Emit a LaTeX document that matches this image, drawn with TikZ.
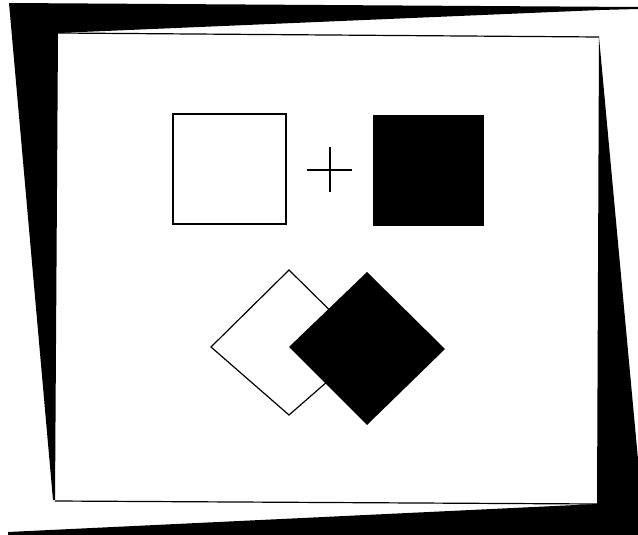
\documentclass[tikz,border=0pt]{standalone}
\begin{document}
\begin{tikzpicture}[x=1pt,y=-1pt,
  thinline/.style={draw=black,line width=1.2pt},
  blackfill/.style={fill=black}]
\useasboundingbox (0,0) rectangle (638,535);
\clip (0,0) rectangle (638,535);
\fill[white] (0,0) rectangle (638,535);
% black frame: top and left band
\fill[blackfill] (9,3) -- (638,7) -- (638,9) -- (600,10) -- (58,33) -- (55,500) -- (53,500) -- cycle;
% black frame: right and bottom band
\fill[blackfill] (599,37) -- (645,535) -- (8,535) -- (8,532) -- (597,504) -- cycle;
% inner sheet outline
\draw[thinline] (58,33) -- (599,37);
\draw[thinline] (55,501) -- (597,504);
% top row: white square, plus sign, black square
\draw[thinline] (173,114) rectangle (286,224);
\draw[line width=1.8pt] (307,170) -- (352,170);
\draw[line width=1.8pt] (330,147) -- (330,192);
\fill[blackfill] (373,115) rectangle (484,226);
% bottom row: overlapping diamonds
\draw[thinline,fill=white] (289,270) -- (367,347) -- (289,415) -- (211,347) -- cycle;
\fill[blackfill] (367,272) -- (445,349) -- (367,425) -- (289,347) -- cycle;
\end{tikzpicture}
\end{document}
